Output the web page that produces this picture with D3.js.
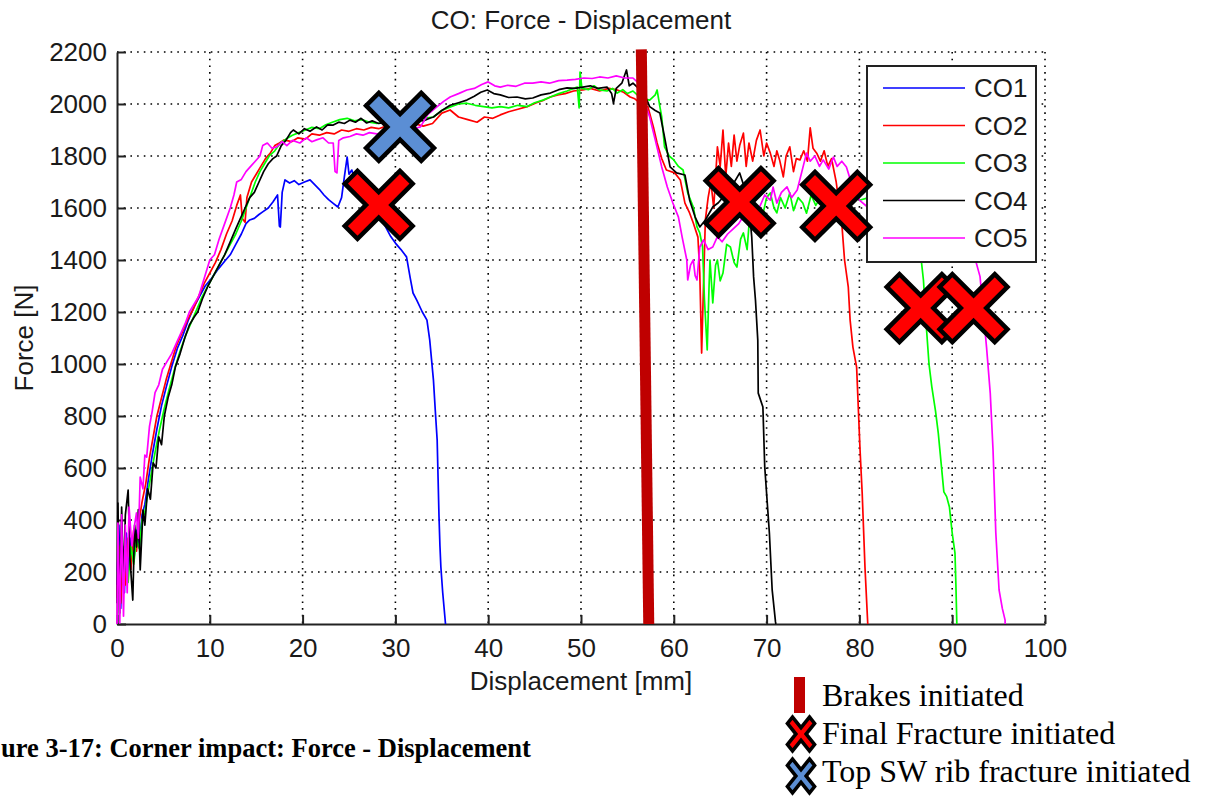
<!DOCTYPE html>
<html>
<head>
<meta charset="utf-8">
<script src="https://cdn.jsdelivr.net/npm/d3@7"></script>
<style>
  body { margin: 0; background: #fff; }
  svg text { font-family: "Liberation Sans", Arial, Helvetica, sans-serif; fill: #1a1a1a; }
  .serif { font-family: "Liberation Serif", "Times New Roman", serif !important; fill: #000; }
</style>
</head>
<body>
<svg id="chart" width="1209" height="796"></svg>
<script>
// --- data: [displacement mm, force N] ---
var seriesNames = ["CO1", "CO2", "CO3", "CO4", "CO5"];
var seriesColors = ["#0000ff", "#ff0000", "#00ff00", "#000000", "#ff00ff"];

var co1 = [[0,150],[0.2,380],[0.4,60],[0.6,300],[0.8,120],[1.0,350],[1.2,200],[1.5,330],[1.8,240],[2.1,360],[2.4,300],[2.7,420],
  [3.0,460],[3.4,560],[3.8,650],[4.3,750],[4.8,840],[5.3,910],[5.9,990],[6.5,1060],[7.1,1110],[7.7,1170],[8.3,1220],[8.9,1260],
  [9.5,1300],[10.2,1330],[10.9,1365],[11.6,1395],[12.2,1420],[12.8,1460],[13.4,1500],[13.9,1540],[14.3,1554],[14.8,1560],
  [15.3,1575],[15.7,1585],[16.3,1600],[16.8,1623],[17.3,1650],[17.5,1530],[17.6,1527],[17.8,1660],[18.1,1708],[18.6,1696],
  [19.1,1705],[19.6,1690],[20.2,1700],[20.8,1708],[21.3,1690],[21.8,1672],[22.3,1650],[22.8,1632],[23.3,1618],[23.8,1604],
  [24.2,1640],[24.5,1720],[24.8,1796],[25.0,1730],[25.3,1746],[25.7,1700],[26.2,1680],[26.8,1650],[27.5,1620],[28.2,1580],
  [28.9,1530],[29.5,1490],[30.0,1465],[30.6,1440],[31.2,1412],[31.6,1330],[31.9,1273],[32.3,1246],[32.9,1200],[33.4,1169],
  [33.7,1092],[34.1,938],[34.3,820],[34.5,708],[34.6,560],[34.7,412],[34.8,300],[34.9,219],[35.1,120],[35.4,0]];

var co2 = [[0,100],[0.2,300],[0.4,80],[0.6,260],[0.9,150],[1.2,330],[1.5,210],[1.8,360],[2.1,280],[2.4,400],[2.7,470],[3.1,540],
  [3.5,640],[3.9,720],[4.3,800],[4.8,870],[5.3,940],[5.8,1000],[6.4,1070],[7.0,1120],[7.6,1170],[8.2,1210],[8.8,1260],[9.4,1310],
  [10.0,1350],[10.6,1390],[11.2,1440],[11.8,1500],[12.4,1550],[12.9,1610],[13.3,1650],[13.5,1560],[13.8,1545],[14.0,1640],
  [14.5,1700],[15.0,1730],[15.5,1760],[16.0,1790],[16.5,1810],[17.0,1840],[17.5,1850],[18.0,1862],[18.8,1855],[19.5,1870],
  [20.3,1865],[21.0,1885],[21.8,1880],[22.6,1890],[23.4,1885],[24.2,1900],[25.0,1895],[25.8,1905],[26.6,1900],[27.4,1910],
  [28.2,1905],[29.0,1915],[30.0,1910],[31.0,1915],[32.0,1925],[33.0,1915],[34.0,1925],[35.0,1965],[35.9,1977],[36.8,1950],
  [37.8,1940],[38.8,1930],[39.6,1950],[40.5,1945],[41.3,1958],[42.2,1970],[43.2,1980],[44.2,1990],[45.2,2005],[46.0,2015],
  [46.7,2027],[47.5,2035],[48.3,2040],[49.2,2050],[50.2,2054],[51.0,2060],[52.0,2050],[53.0,2060],[53.9,2054],[54.6,2045],
  [55.3,2027],[55.8,2020],[56.5,2000],[57.2,1990],[57.8,1912],[58.2,1850],[58.7,1790],[59.2,1746],[60.1,1735],[60.7,1708],
  [61.2,1619],[61.7,1581],[62.1,1542],[62.6,1488],[62.8,1350],[63.0,1042],[63.2,1300],[63.4,1554],[63.7,1640],[64.0,1700],
  [64.3,1600],[64.7,1835],[65.0,1760],[65.3,1900],[65.6,1720],[65.9,1850],[66.2,1760],[66.5,1880],[66.8,1780],[67.1,1840],
  [67.5,1888],[67.8,1760],[68.1,1850],[68.5,1780],[68.9,1860],[69.3,1900],[69.7,1800],[70.0,1850],[70.4,1811],[70.8,1760],
  [71.1,1820],[71.4,1785],[71.8,1720],[72.1,1800],[72.5,1835],[72.9,1740],[73.2,1790],[73.6,1785],[74.0,1820],[74.4,1780],
  [74.7,1908],[75.0,1830],[75.4,1811],[75.8,1780],[76.2,1820],[76.6,1760],[77.0,1790],[77.5,1700],[77.8,1620],[78.1,1542],
  [78.4,1400],[78.8,1297],[79.0,1169],[79.3,1065],[79.7,988],[80.07,669],[80.3,504],[80.6,219],[80.9,0]];

var co3 = [[0,200],[0.2,120],[0.4,320],[0.6,180],[0.9,280],[1.2,160],[1.5,300],[1.8,230],[2.1,330],[2.4,290],[2.7,400],[3.0,430],
  [3.3,500],[3.7,580],[4.1,660],[4.6,750],[5.1,830],[5.6,900],[6.2,980],[6.8,1050],[7.4,1110],[8.0,1160],[8.6,1210],[9.2,1260],
  [9.8,1300],[10.4,1340],[11.0,1380],[11.6,1420],[12.2,1460],[12.8,1500],[13.4,1550],[13.9,1600],[14.4,1650],[14.9,1700],
  [15.4,1740],[15.9,1770],[16.4,1800],[17.0,1820],[17.6,1850],[18.2,1865],[18.9,1880],[19.6,1890],[20.3,1900],[21.0,1910],
  [21.8,1905],[22.5,1920],[23.2,1930],[24.0,1940],[24.8,1945],[25.6,1935],[26.4,1940],[27.2,1930],[28.0,1925],[29.0,1930],
  [30.0,1935],[31.0,1935],[32.0,1930],[33.0,1945],[34.1,1950],[35.0,1975],[36.0,1990],[36.8,2000],[37.7,2003],[38.6,1995],
  [39.5,1990],[40.4,1985],[41.3,1990],[42.2,1985],[43.2,1995],[44.2,1990],[45.0,2005],[45.9,2015],[46.7,2027],[47.6,2040],
  [48.5,2050],[49.2,2060],[49.6,2065],[49.8,1985],[49.9,2123],[50.1,2060],[50.8,2055],[51.4,2070],[52.0,2054],[52.8,2050],
  [53.4,2060],[53.9,2042],[54.5,2055],[55.0,2040],[55.6,2050],[56.2,2030],[56.8,2020],[57.4,2015],[58.0,2035],[58.2,2054],
  [58.5,1990],[58.7,1950],[59.0,1835],[59.5,1800],[60.0,1785],[60.5,1760],[61.0,1746],[61.5,1658],[62.1,1604],[62.5,1527],
  [62.8,1504],[63.1,1450],[63.3,1250],[63.6,1054],[63.8,1300],[63.9,1400],[64.2,1235],[64.5,1380],[64.7,1400],[65.0,1320],
  [65.3,1350],[65.7,1460],[66.1,1450],[66.5,1390],[66.8,1373],[67.2,1480],[67.5,1504],[67.9,1440],[68.2,1581],[68.6,1520],
  [69.0,1600],[69.5,1560],[70.0,1640],[70.4,1658],[70.8,1600],[71.1,1581],[71.5,1640],[72.0,1600],[72.5,1658],[72.9,1590],
  [73.4,1640],[73.9,1619],[74.3,1580],[74.8,1650],[75.3,1610],[75.8,1640],[76.3,1600],[76.8,1650],[77.3,1620],[77.8,1640],
  [78.5,1610],[79.2,1650],[80.0,1630],[81.0,1640],[82.0,1620],[83.0,1630],[84.0,1610],[85.0,1600],[86.0,1500],[86.7,1388],
  [86.9,1323],[87.2,1150],[87.5,1000],[87.8,913],[88.2,820],[88.5,734],[89.1,508],[89.4,490],[89.7,450],[90.0,350],
  [90.3,273],[90.4,150],[90.5,0]];

var co4 = [[0,80],[0.1,465],[0.3,42],[0.5,450],[0.7,150],[0.9,420],[1.2,515],[1.4,250],[1.7,92],[1.9,380],[2.1,296],[2.3,440],
  [2.5,208],[2.8,438],[3.0,380],[3.3,520],[3.6,480],[3.9,620],[4.2,600],[4.5,720],[4.8,690],[5.1,800],[5.5,870],[5.9,920],
  [6.3,990],[6.8,1040],[7.3,1100],[7.8,1150],[8.3,1180],[8.7,1200],[9.2,1250],[9.8,1300],[10.4,1340],[11.0,1380],[11.6,1420],
  [12.2,1470],[12.8,1520],[13.3,1560],[13.8,1600],[14.3,1640],[14.8,1660],[15.3,1700],[15.8,1740],[16.3,1770],[16.8,1790],
  [17.2,1800],[17.7,1840],[18.2,1860],[18.7,1890],[19.0,1900],[19.6,1885],[20.2,1905],[20.8,1895],[21.5,1912],[22.1,1900],
  [22.7,1920],[23.3,1919],[23.9,1930],[24.5,1925],[25.1,1938],[25.7,1930],[26.3,1945],[26.9,1927],[27.5,1935],[28.2,1925],
  [29.0,1930],[30.0,1935],[31.0,1930],[32.0,1940],[33.0,1935],[33.7,1945],[34.1,1950],[35.0,1975],[35.9,1995],[36.8,2005],
  [37.7,2015],[38.5,2030],[39.2,2045],[39.9,2054],[40.6,2040],[41.3,2035],[42.2,2025],[43.1,2027],[44.0,2020],[44.8,2023],
  [45.7,2035],[46.7,2042],[47.6,2055],[48.5,2062],[49.3,2060],[50.2,2065],[51.0,2070],[51.8,2060],[52.8,2065],[53.3,2040],
  [53.5,2003],[53.8,2060],[54.4,2080],[54.9,2131],[55.2,2070],[55.6,2080],[56.2,2060],[56.8,2040],[57.4,1990],[58.0,1975],
  [58.5,1965],[59.0,1873],[59.6,1758],[60.3,1735],[61.2,1727],[61.7,1631],[62.3,1565],[62.8,1527],[63.4,1554],[64.2,1604],
  [64.8,1620],[65.5,1650],[66.2,1680],[67.1,1735],[67.6,1680],[68.0,1650],[68.4,1488],[68.6,1335],[68.8,1246],[69.05,1092],
  [69.1,888],[69.6,835],[69.8,604],[70.3,350],[70.6,131],[70.96,8],[71.0,0]];

var co5 = [[0,0],[0.1,388],[0.3,4],[0.5,420],[0.7,30],[0.9,380],[1.1,120],[1.3,450],[1.6,300],[1.8,360],[2.1,427],[2.3,330],
  [2.5,565],[2.8,520],[3.0,650],[3.2,642],[3.5,760],[3.8,820],[4.1,890],[4.5,920],[4.9,980],[5.4,1010],[5.9,1040],[6.4,1080],
  [6.9,1120],[7.4,1160],[7.8,1200],[8.3,1230],[8.8,1260],[9.4,1330],[10.0,1400],[10.5,1420],[11.0,1480],[11.6,1540],
  [12.2,1600],[12.6,1650],[12.9,1700],[13.4,1710],[13.9,1740],[14.4,1760],[14.9,1780],[15.4,1800],[15.7,1840],[16.2,1850],
  [16.7,1830],[17.2,1835],[17.8,1855],[18.3,1840],[18.9,1860],[19.7,1850],[20.4,1870],[21.0,1855],[21.5,1862],[22.2,1870],
  [22.8,1850],[23.3,1850],[23.5,1740],[23.7,1735],[23.9,1860],[24.4,1870],[25.1,1875],[25.8,1885],[26.5,1880],[27.2,1890],
  [28.0,1885],[29.0,1890],[30.0,1895],[31.0,1905],[32.0,1905],[32.7,1912],[33.5,1960],[34.5,1990],[35.2,2010],[35.9,2027],
  [36.8,2040],[37.7,2054],[38.5,2060],[39.3,2075],[40.0,2085],[40.7,2070],[41.3,2065],[42.1,2072],[43.0,2068],[43.9,2080],
  [44.8,2080],[45.7,2085],[46.6,2080],[47.6,2090],[48.5,2092],[49.4,2095],[50.3,2100],[51.2,2098],[52.0,2104],[52.9,2100],
  [53.8,2108],[54.7,2100],[55.6,2100],[56.2,2080],[56.8,2010],[57.4,1950],[58.0,1862],[58.7,1758],[59.3,1681],[59.9,1619],
  [60.5,1565],[60.9,1488],[61.4,1400],[61.5,1323],[61.8,1380],[62.1,1400],[62.3,1340],[62.5,1323],[62.8,1450],[63.2,1477],
  [63.7,1440],[64.2,1450],[64.7,1490],[65.2,1470],[65.8,1500],[66.4,1520],[67.0,1540],[67.7,1580],[68.5,1610],[69.2,1600],
  [69.8,1650],[70.4,1630],[70.7,1680],[71.1,1619],[71.6,1660],[72.2,1681],[72.7,1640],[73.3,1669],[73.8,1740],[74.3,1811],
  [74.7,1780],[75.2,1800],[75.7,1760],[76.1,1785],[76.7,1750],[77.2,1796],[77.6,1760],[78.1,1780],[78.6,1758],[79.1,1700],
  [79.5,1670],[80.0,1630],[81.0,1600],[82.0,1620],[83.0,1580],[84.0,1600],[85.0,1560],[86.0,1580],[87.0,1560],[88.0,1550],
  [89.0,1560],[90.0,1530],[91.0,1500],[92.0,1450],[92.6,1388],[93.0,1336],[93.7,1065],[94.1,888],[94.4,669],[94.7,350],
  [95.05,131],[95.4,60],[95.7,15],[95.7,0]];

var allSeries = [co1, co2, co3, co4, co5];

var xTicks = [0, 10, 20, 30, 40, 50, 60, 70, 80, 90, 100];
var yTicks = [0, 200, 400, 600, 800, 1000, 1200, 1400, 1600, 1800, 2000, 2200];

// brake line (slightly slanted) and fracture markers
var brakeX = [56.5, 57.3];
var brakeY = [2210, 0];
var fractureX = [28.2, 67.1, 77.5, 86.6, 92.3];
var fractureY = [1612, 1623, 1608, 1215, 1215];
var ribX = [30.5];
var ribY = [1912];

var keyLabels = ["Brakes initiated", "Final Fracture initiated", "Top SW rib fracture initiated"];
// the caption is cropped on the left in the source picture
var caption = "ure 3-17: Corner impact: Force - Displacement";

// --- layout ---
var margin = {top: 52, right: 164, bottom: 172, left: 117},
    width = 1209 - margin.left - margin.right,
    height = 796 - margin.top - margin.bottom;

var svg = d3.select("#chart");
var g = svg.append("g")
  .attr("transform", "translate(" + margin.left + "," + margin.top + ")");

var x = d3.scaleLinear().domain([0, 100]).range([0, width]);
var y = d3.scaleLinear().domain([0, 2200]).range([height, 0]);

// dotted grid
g.append("g").selectAll("line")
  .data(xTicks.slice(1))
  .enter().append("line")
    .attr("x1", function(d) { return x(d); })
    .attr("x2", function(d) { return x(d); })
    .attr("y1", 0).attr("y2", height)
    .attr("stroke", "#000").attr("stroke-width", 1.6)
    .attr("stroke-dasharray", "1.6 5.1");

g.append("g").selectAll("line")
  .data(yTicks.slice(1))
  .enter().append("line")
    .attr("y1", function(d) { return y(d); })
    .attr("y2", function(d) { return y(d); })
    .attr("x1", 0).attr("x2", width)
    .attr("stroke", "#000").attr("stroke-width", 1.6)
    .attr("stroke-dasharray", "1.6 5.1");

// axes (ticks point inward like matlab)
var xAxis = d3.axisBottom(x).tickValues(xTicks).tickFormat(d3.format("d"))
  .tickSizeInner(-9).tickSizeOuter(0).tickPadding(14);
var yAxis = d3.axisLeft(y).tickValues(yTicks).tickFormat(d3.format("d"))
  .tickSizeInner(-9).tickSizeOuter(0).tickPadding(10);

var gx = g.append("g")
  .attr("transform", "translate(0," + height + ")")
  .call(xAxis);
var gy = g.append("g").call(yAxis);

[gx, gy].forEach(function(a) {
  a.select(".domain").attr("stroke", "#222").attr("stroke-width", 2);
  a.selectAll(".tick line").attr("stroke", "#222").attr("stroke-width", 2);
  a.selectAll(".tick text")
    .attr("font-family", "Liberation Sans, Arial, sans-serif")
    .attr("font-size", 26)
    .attr("fill", "#1a1a1a");
});
gx.selectAll(".tick text").attr("dy", "0.72em");

// curves
var line = d3.line()
  .x(function(d) { return x(d[0]); })
  .y(function(d) { return y(d[1]); });

g.append("g").selectAll("path")
  .data(allSeries)
  .enter().append("path")
    .attr("d", line)
    .attr("fill", "none")
    .attr("stroke", function(d, i) { return seriesColors[i]; })
    .attr("stroke-width", 1.7)
    .attr("stroke-linejoin", "round");

// legend box
var lg = g.append("g").attr("transform", "translate(" + (867 - margin.left) + "," + (66 - margin.top) + ")");
lg.append("rect")
  .attr("width", 169).attr("height", 196)
  .attr("fill", "#fff").attr("stroke", "#222").attr("stroke-width", 2);
seriesNames.forEach(function(name, i) {
  var ry = 22 + i * 37.5;
  lg.append("line")
    .attr("x1", 16).attr("x2", 98).attr("y1", ry).attr("y2", ry)
    .attr("stroke", seriesColors[i]).attr("stroke-width", 1.6);
  lg.append("text")
    .attr("x", 107).attr("y", ry + 9)
    .attr("font-size", 26)
    .text(name);
});

// big X marker, drawn as a plus rotated 45 degrees
function crossPath(L, t) {
  var pts = [[-t,-L],[t,-L],[t,-t],[L,-t],[L,t],[t,t],[t,L],[-t,L],[-t,t],[-L,t],[-L,-t],[-t,-t]];
  var s = Math.SQRT1_2;
  return "M" + pts.map(function(p) {
    return ((p[0] - p[1]) * s).toFixed(2) + "," + ((p[0] + p[1]) * s).toFixed(2);
  }).join("L") + "Z";
}
var xShape = crossPath(39, 9);

g.append("g").selectAll("path")
  .data(fractureX)
  .enter().append("path")
    .attr("d", xShape)
    .attr("transform", function(d, i) { return "translate(" + x(d) + "," + y(fractureY[i]) + ")"; })
    .attr("fill", "#ff0000").attr("stroke", "#000").attr("stroke-width", 4.5)
    .attr("stroke-linejoin", "miter");

g.append("g").selectAll("path")
  .data(ribX)
  .enter().append("path")
    .attr("d", xShape)
    .attr("transform", function(d, i) { return "translate(" + x(d) + "," + y(ribY[i]) + ")"; })
    .attr("fill", "#5b8ed4").attr("stroke", "#000").attr("stroke-width", 4.5);

// brake line
g.append("line")
  .attr("x1", x(brakeX[0])).attr("y1", y(brakeY[0]))
  .attr("x2", x(brakeX[1])).attr("y2", y(brakeY[1]))
  .attr("stroke", "#bf0000").attr("stroke-width", 11);

// titles
svg.append("text")
  .attr("x", margin.left + width / 2).attr("y", 29)
  .attr("text-anchor", "middle").attr("font-size", 26)
  .text("CO: Force - Displacement");

svg.append("text")
  .attr("x", margin.left + width / 2).attr("y", 690)
  .attr("text-anchor", "middle").attr("font-size", 26)
  .text("Displacement [mm]");

svg.append("text")
  .attr("transform", "translate(33," + (margin.top + height / 2) + ") rotate(-90)")
  .attr("text-anchor", "middle").attr("font-size", 26)
  .text("Force [N]");

svg.append("text")
  .attr("class", "serif")
  .attr("x", 1).attr("y", 757)
  .attr("font-size", 26.5).attr("font-weight", "bold")
  .text(caption);

// marker key under the plot
var key = svg.append("g");
key.append("rect")
  .attr("x", 794).attr("y", 677).attr("width", 11).attr("height", 36)
  .attr("fill", "#bf0000");
key.append("path")
  .attr("d", xShape)
  .attr("transform", "translate(801,734) scale(0.4,0.5)")
  .attr("fill", "#ff0000").attr("stroke", "#000").attr("stroke-width", 8);
key.append("path")
  .attr("d", xShape)
  .attr("transform", "translate(801,776) scale(0.4,0.5)")
  .attr("fill", "#5b8ed4").attr("stroke", "#000").attr("stroke-width", 8);

keyLabels.forEach(function(t, i) {
  key.append("text")
    .attr("class", "serif")
    .attr("x", 822).attr("y", 706 + i * 38)
    .attr("font-size", 32)
    .text(t);
});
</script>
</body>
</html>
